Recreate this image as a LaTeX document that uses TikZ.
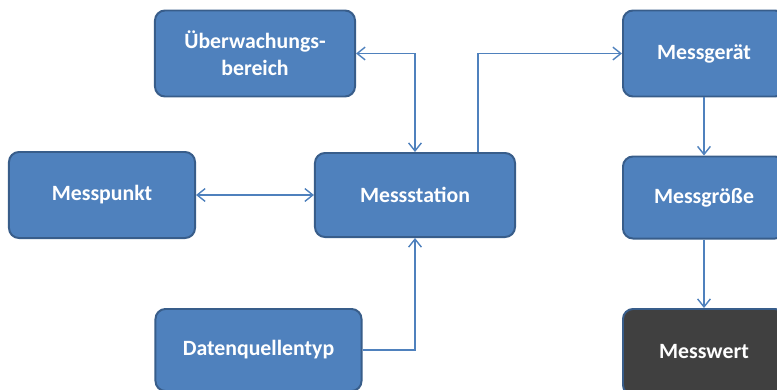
\documentclass[tikz,border=0pt]{standalone}
\usepackage{fontspec}
\setmainfont{Carlito}
\usetikzlibrary{arrows.meta}
\definecolor{officeblue}{RGB}{79, 129, 189}
\definecolor{borderblue}{RGB}{56, 93, 138}
\definecolor{darkgrey}{RGB}{64, 64, 64}
\definecolor{linkblue}{RGB}{79, 129, 189}
\tikzset{
  flowarrow/.style={-{Straight Barb[length=2mm, width=3.2mm]}, line width=1pt, linkblue},
  bothwayarrow/.style={{Straight Barb[length=2mm, width=3.2mm]}-{Straight Barb[length=2mm, width=3.2mm]}, line width=1pt, linkblue}
}
\begin{document}
\begin{tikzpicture}[
    x=0.025cm, y=-0.025cm,
    box/.style={rectangle, draw=borderblue, fill=officeblue, line width=1.4pt, rounded corners=0.25cm, minimum width=5cm, minimum height=2.15cm, text=white, font=\fontsize{15.5}{19}\selectfont\bfseries, align=center},
    darkbox/.style={box, fill=darkgrey}
]
    \useasboundingbox (0,0) rectangle (777,389);

    \node[box] (ueber) at (255, 53.5) {Überwachungs-\\bereich};
    \node[box, minimum width=4.65cm] (punkt) at (102, 195) {Messpunkt};
    \node[box, minimum height=2.1cm] (station) at (415, 195) {Messstation};
    \node[box, minimum width=5.15cm, minimum height=2.05cm] (daten) at (258.5, 350) {Datenquellentyp};
    \node[box, minimum width=4.05cm] (geraet) at (704, 53.5) {Messgerät};
    \node[box, minimum width=4.05cm, minimum height=2.05cm] (groesse) at (704, 197.5) {Messgröße};
    \node[darkbox, minimum width=4.05cm] (wert) at (704, 352) {Messwert};

    \draw[bothwayarrow] (ueber.east) -| (station.north);
    \draw[bothwayarrow] (punkt.east) -- (station.west);
    \draw[flowarrow] (daten.east) -| (station.south);
    \draw[flowarrow] ([xshift=1.575cm]station.north) |- (geraet.west);
    \draw[flowarrow] (geraet) -- (groesse);
    \draw[flowarrow] (groesse) -- (wert);
\end{tikzpicture}
\end{document}
